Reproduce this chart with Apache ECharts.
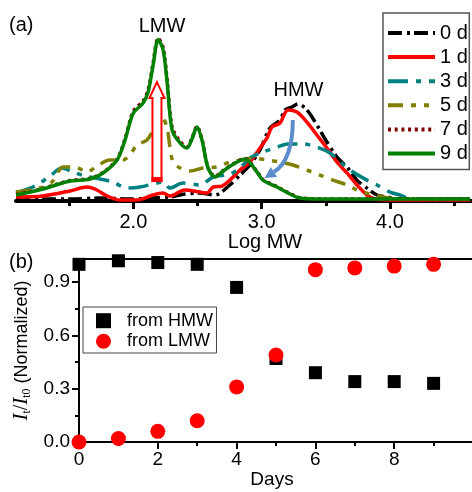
<!DOCTYPE html>
<html>
<head>
<meta charset="utf-8">
<script src="https://cdn.jsdelivr.net/npm/echarts@6/dist/echarts.min.js"></script>
<style>
  html, body { margin: 0; padding: 0; background: #fff; }
  #chart { width: 472px; height: 492px; }
</style>
</head>
<body>
<div id="chart"></div>
<script>
// ---------- (a) molecular-weight distributions, one trace per storage day ----------
const logMW_0d = [1.085,1.272,1.506,1.740,1.973,2.129,2.285,2.402,2.519,2.636,2.753,2.831,2.909,2.987,3.065,3.143,3.182,3.236,3.283,3.353,3.431,3.509,3.587,3.665,3.743,3.821,3.899,3.977,4.078,4.624];
const int_0d   = [0.006,0.006,0.006,0.012,0.006,0.012,0.019,0.037,0.043,0.031,0.093,0.154,0.216,0.309,0.444,0.494,0.556,0.574,0.593,0.556,0.463,0.358,0.265,0.204,0.123,0.074,0.031,0.019,0.006,0.006];

const logMW_1d = [1.085,1.295,1.506,1.638,1.716,1.794,1.896,2.028,2.153,2.231,2.285,2.402,2.519,2.574,2.621,2.691,2.753,2.831,2.909,2.987,3.042,3.081,3.143,3.182,3.205,3.275,3.353,3.431,3.509,3.587,3.665,3.743,3.821,3.884,4.078,4.624];
const int_1d   = [0.019,0.025,0.056,0.080,0.062,0.025,0.000,0.000,0.031,0.043,0.025,0.062,0.049,0.043,0.080,0.086,0.123,0.185,0.235,0.321,0.383,0.451,0.475,0.537,0.556,0.543,0.481,0.401,0.321,0.235,0.167,0.093,0.031,0.006,0.000,0.000];

const logMW_3d = [1.085,1.233,1.350,1.443,1.529,1.623,1.740,1.841,1.950,2.051,2.184,2.231,2.285,2.387,2.519,2.621,2.753,2.831,2.909,3.010,3.120,3.205,3.322,3.431,3.533,3.611,3.712,3.821,3.899,4.001,4.078,4.172,4.624];
const int_3d   = [0.043,0.086,0.148,0.198,0.173,0.148,0.130,0.111,0.074,0.080,0.105,0.111,0.074,0.105,0.093,0.142,0.160,0.198,0.259,0.296,0.327,0.346,0.346,0.327,0.290,0.235,0.173,0.123,0.093,0.049,0.031,0.006,0.006];

const logMW_5d = [1.085,1.295,1.373,1.451,1.545,1.638,1.716,1.817,1.919,1.973,2.028,2.106,2.168,2.223,2.262,2.285,2.309,2.364,2.441,2.543,2.652,2.753,2.854,2.932,3.042,3.143,3.244,3.353,3.454,3.556,3.665,3.743,3.844,3.945,4.078,4.624];
const int_5d   = [0.049,0.080,0.117,0.204,0.204,0.173,0.210,0.247,0.247,0.278,0.340,0.370,0.451,0.506,0.451,0.327,0.235,0.198,0.179,0.198,0.204,0.235,0.247,0.259,0.247,0.235,0.216,0.185,0.154,0.123,0.093,0.062,0.037,0.019,0.006,0.006];

const logMW_7d = [1.086,1.195,1.296,1.397,1.507,1.663,1.764,1.873,1.935,1.974,2.005,2.076,2.115,2.154,2.193,2.232,2.263,2.302,2.364,2.418,2.457,2.496,2.535,2.582,2.637,2.691,2.769,2.870,2.964,3.010,3.120,3.221,3.299,3.455,4.078,4.624];
const int_7d   = [0.034,0.052,0.071,0.096,0.120,0.134,0.170,0.252,0.378,0.490,0.555,0.612,0.680,0.845,1.000,0.940,0.742,0.450,0.362,0.328,0.382,0.455,0.374,0.202,0.146,0.176,0.219,0.256,0.176,0.126,0.083,0.040,0.014,0.007,0.006,0.006];

const logMW_9d = [1.086,1.195,1.296,1.397,1.507,1.663,1.764,1.873,1.935,1.974,2.005,2.076,2.115,2.154,2.193,2.232,2.263,2.302,2.364,2.418,2.457,2.496,2.535,2.582,2.637,2.691,2.769,2.870,2.964,3.010,3.120,3.221,3.299,3.455,4.078,4.624];
const int_9d   = [0.031,0.049,0.068,0.093,0.117,0.130,0.167,0.247,0.370,0.481,0.543,0.599,0.667,0.833,0.990,0.926,0.728,0.432,0.352,0.321,0.377,0.451,0.370,0.198,0.142,0.173,0.216,0.253,0.173,0.123,0.080,0.037,0.012,0.006,0.006,0.006];

const dayNames = ['0 d', '1 d', '3 d', '5 d', '7 d', '9 d'];
const logMWLabels = [2.0, 3.0, 4.0];
const logMWMajorTicks = [2.0, 3.0, 4.0];
const logMWMinorTicks = [1.5, 2.5, 3.5, 4.5];

// ---------- (b) normalized intensity of the two fractions vs. time ----------
const days = [0, 1, 2, 3, 4, 5, 6, 7, 8, 9];
const fromHMW = [1.00, 1.02, 1.01, 1.00, 0.87, 0.47, 0.39, 0.34, 0.34, 0.33];
const fromLMW = [0.00, 0.02, 0.06, 0.12, 0.31, 0.49, 0.97, 0.98, 0.99, 1.00];
const dayLabels = [0, 2, 4, 6, 8];
const ratioLabels = [0.0, 0.3, 0.6, 0.9];
const ratioMinorTicks = [0.15, 0.45, 0.75];

const FONT = '"Liberation Sans", Arial, Helvetica, sans-serif';
const SERIF = '"Liberation Serif", "Times New Roman", serif';

const pairs = (xs, ys) => xs.map((x, i) => [x, ys[i]]);

const traces = [
  { name: dayNames[0], x: logMW_0d, y: int_0d, color: '#000000', dash: [14, 5, 3, 4] },
  { name: dayNames[1], x: logMW_1d, y: int_1d, color: '#ff0000', dash: 'solid' },
  { name: dayNames[2], x: logMW_3d, y: int_3d, color: '#008080', dash: [20, 8, 5, 8] },
  { name: dayNames[3], x: logMW_5d, y: int_5d, color: '#808000', dash: [15, 8, 5, 8, 5, 8] },
  { name: dayNames[4], x: logMW_7d, y: int_7d, color: '#800000', dash: [3, 3.7] },
  { name: dayNames[5], x: logMW_9d, y: int_9d, color: '#008000', dash: 'solid' }
];

const X_MIN_A = 1.085, X_MAX_A = 4.64;

const chart = echarts.init(document.getElementById('chart'), null, { renderer: 'canvas' });

const option = {
  animation: false,
  backgroundColor: '#fff',
  textStyle: { fontFamily: FONT },
  grid: [
    { left: 16, right: 0, top: 21.8, bottom: 291, outerBoundsMode: 'none', containLabel: false },
    { left: 79, width: 394, top: 259, bottom: 50, outerBoundsMode: 'none', containLabel: false,
      show: true, borderColor: '#000', borderWidth: 2 }
  ],
  xAxis: [
    {
      gridIndex: 0, type: 'value', min: X_MIN_A, max: X_MAX_A, position: 'bottom',
      axisLine: { onZero: false, lineStyle: { color: '#000', width: 4 } },
      axisTick: { customValues: logMWMajorTicks, length: 8, lineStyle: { color: '#000', width: 3 } },
      axisLabel: { customValues: logMWLabels, formatter: v => v.toFixed(1), color: '#000',
                   fontSize: 20, fontFamily: FONT, margin: 11 },
      splitLine: { show: false },
      name: 'Log MW', nameLocation: 'middle', nameGap: 31,
      nameTextStyle: { color: '#000', fontSize: 20, fontFamily: FONT, padding: [0, 0, 0, 42] }
    },
    {
      gridIndex: 0, type: 'value', min: X_MIN_A, max: X_MAX_A, position: 'bottom',
      axisLine: { show: false, onZero: false },
      axisTick: { customValues: logMWMinorTicks, length: 5, lineStyle: { color: '#000', width: 3 } },
      axisLabel: { show: false }, splitLine: { show: false }
    },
    {
      gridIndex: 1, type: 'value', min: 0, max: 10, interval: 2, position: 'bottom',
      axisLine: { onZero: false, lineStyle: { color: '#000', width: 2 } },
      axisTick: { length: 7, lineStyle: { color: '#000', width: 2 } },
      minorTick: { show: true, splitNumber: 2, length: 4, lineStyle: { color: '#000', width: 2 } },
      axisLabel: { customValues: dayLabels, color: '#000', fontSize: 19, fontFamily: FONT, margin: 8 },
      splitLine: { show: false }, minorSplitLine: { show: false },
      name: 'Days', nameLocation: 'middle', nameGap: 28,
      nameTextStyle: { color: '#000', fontSize: 19, fontFamily: FONT, padding: [0, 8, 0, 0] }
    }
  ],
  yAxis: [
    { gridIndex: 0, type: 'value', min: -0.006, max: 1.1, show: false, splitLine: { show: false } },
    {
      gridIndex: 1, type: 'value', min: 0, max: 1.03, position: 'left',
      axisLine: { onZero: false, lineStyle: { color: '#000', width: 2 } },
      axisTick: { customValues: ratioLabels, length: 7, lineStyle: { color: '#000', width: 2 } },
      axisLabel: { customValues: ratioLabels, formatter: v => v.toFixed(1), color: '#000',
                   fontSize: 19, fontFamily: FONT, margin: 9 },
      splitLine: { show: false },
      name: '{i|I}{s|t}{n|/}{i|I}{s|t0}{t| (Normalized)}',
      nameLocation: 'middle', nameGap: 45,
      nameTextStyle: {
        color: '#000', fontSize: 18, fontFamily: FONT,
        rich: {
          i: { fontFamily: SERIF, fontStyle: 'italic', fontSize: 21, lineHeight: 22, color: '#000' },
          s: { fontFamily: SERIF, fontSize: 12, lineHeight: 10, verticalAlign: 'bottom', color: '#000' },
          n: { fontFamily: SERIF, fontSize: 20, lineHeight: 22, color: '#000' },
          t: { fontFamily: FONT, fontSize: 18, lineHeight: 22, color: '#000' }
        }
      }
    },
    {
      gridIndex: 1, type: 'value', min: 0, max: 1.03, position: 'left',
      axisLine: { show: false, onZero: false },
      axisTick: { customValues: ratioMinorTicks, length: 4, lineStyle: { color: '#000', width: 2 } },
      axisLabel: { show: false }, splitLine: { show: false }
    }
  ],
  legend: [
    {
      data: dayNames, orient: 'vertical', left: 383, top: 13,
      itemWidth: 47, itemHeight: 14, itemGap: 4.1,
      padding: [10, 1.5, 6, 3],
      borderColor: '#555', borderWidth: 1.5,
      selectedMode: false,
      // line samples only, no marker on them
      itemStyle: { opacity: 0 },
      lineStyle: { width: 4 },
      textStyle: { color: '#000', fontSize: 20, fontFamily: FONT, lineHeight: 20 }
    },
    {
      data: ['from HMW', 'from LMW'], orient: 'vertical', left: 83, top: 307,
      itemWidth: 15, itemHeight: 15, itemGap: 0.6,
      padding: [3.7, 3.5, 1.7, 13],
      borderColor: '#444', borderWidth: 1,
      selectedMode: false,
      textStyle: { color: '#000', fontSize: 18, fontFamily: FONT, lineHeight: 20, padding: [0, 0, 0, 11] }
    }
  ],
  series: [
    ...traces.map(t => ({
      name: t.name, type: 'line', xAxisIndex: 0, yAxisIndex: 0,
      data: pairs(t.x, t.y),
      showSymbol: false, symbol: 'none', smooth: 0.3,
      lineStyle: { color: t.color, width: 3.5, type: t.dash, cap: 'butt' },
      itemStyle: { color: t.color },
      emphasis: { disabled: true }
    })),
    {
      name: 'from HMW', type: 'scatter', xAxisIndex: 2, yAxisIndex: 1,
      data: pairs(days, fromHMW), symbol: 'rect', symbolSize: 13, clip: false,
      itemStyle: { color: '#000', opacity: 1 }
    },
    {
      name: 'from LMW', type: 'scatter', xAxisIndex: 2, yAxisIndex: 1,
      data: pairs(days, fromLMW), symbol: 'circle', symbolSize: 15, clip: false,
      itemStyle: { color: '#ff0000', opacity: 1 }
    }
  ]
};

chart.setOption(option);

// ---------- annotations anchored in (Log MW, intensity) space ----------
const growArrow = { x: 2.184, base: 0.117, tip: 0.728 };          // LMW rising
const decayArrow = { start: [3.243, 0.494], ctrl: [3.243, 0.247], end: [3.096, 0.173] }; // HMW falling

const toPx = p => chart.convertToPixel({ xAxisIndex: 0, yAxisIndex: 0 }, p);

const g = [];
const txt = (text, x, y, align) => ({
  type: 'text', z: 120,
  style: { text, x, y, align: align || 'center', verticalAlign: 'middle',
           fill: '#000', fontSize: 20, fontFamily: FONT }
});
g.push(txt('(a)', 9, 25, 'left'));
g.push(txt('(b)', 9, 262, 'left'));
g.push(txt('LMW', 162, 26));
g.push(txt('HMW', 298.5, 90));

// hollow red arrow
{
  const [cx, yb] = toPx([growArrow.x, growArrow.base]);
  const [, yt] = toPx([growArrow.x, growArrow.tip]);
  const bw = 4.5, hw = 7.5, hh = 16;
  g.push({
    type: 'polygon', z: 110,
    shape: { points: [[cx, yt], [cx + hw, yt + hh], [cx + bw, yt + hh], [cx + bw, yb],
                      [cx - bw, yb], [cx - bw, yt + hh], [cx - hw, yt + hh]] },
    style: { fill: '#fff', stroke: '#ff0000', lineWidth: 2 }
  });
  g.push({
    type: 'rect', z: 111,
    shape: { x: cx - bw - 1, y: yb - 4, width: 2 * bw + 2, height: 5 },
    style: { fill: '#ff0000' }
  });
}

// curved blue arrow
{
  const p0 = toPx(decayArrow.start), p1 = toPx(decayArrow.ctrl), p2 = toPx(decayArrow.end);
  const blue = '#5b8dcd';
  g.push({
    type: 'bezierCurve', z: 110,
    shape: { x1: p0[0], y1: p0[1], cpx1: p1[0], cpy1: p1[1], x2: p2[0], y2: p2[1] },
    style: { stroke: blue, lineWidth: 4, fill: null }
  });
  const dx = p2[0] - p1[0], dy = p2[1] - p1[1], len = Math.hypot(dx, dy);
  const ux = dx / len, uy = dy / len, nx = -uy, ny = ux;
  const L = 11, W = 6;
  const tip = [p2[0] + ux * L, p2[1] + uy * L];
  g.push({
    type: 'polygon', z: 111,
    shape: { points: [tip, [p2[0] + nx * W, p2[1] + ny * W], [p2[0] - nx * W, p2[1] - ny * W]] },
    style: { fill: blue }
  });
}

chart.setOption({ graphic: g });
</script>
</body>
</html>
